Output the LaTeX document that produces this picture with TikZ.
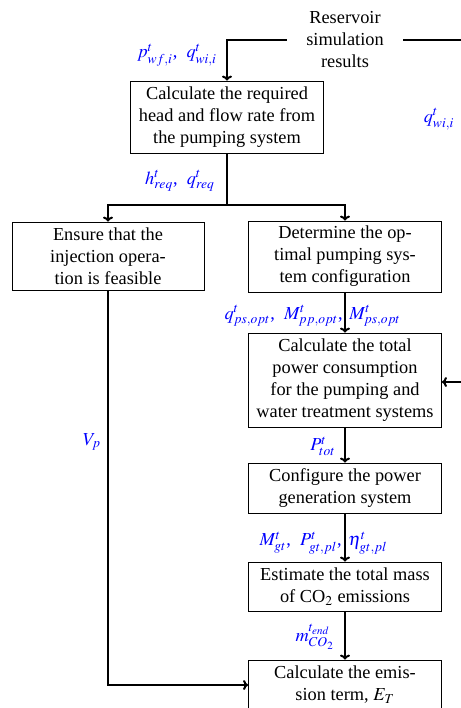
\documentclass[tikz,border=0pt]{standalone}
\usepackage{mathptmx}
\usepackage{fontspec}
\setmainfont{Liberation Serif}
\usetikzlibrary{arrows.meta}
\begin{document}
\begin{tikzpicture}[x=0.6pt,y=-0.6pt,
  every node/.style={font=\fontsize{11}{13.2}\selectfont},
  proc/.style={draw,line width=0.5pt,align=center,minimum width=115.8pt,inner sep=0pt},
  lab/.style={text=blue,inner sep=0pt},
  conn/.style={line width=1.2pt},
  arr/.style={conn,-{To[length=3pt,width=6pt]}}]
\useasboundingbox (0,0) rectangle (461,708);
\node[align=center,minimum width=69.6pt,inner sep=0pt] (res) at (345,40) {Reservoir\\simulation\\results};
\node[proc,minimum height=43.2pt] (b1) at (227,117) {Calculate the required\\head and flow rate from\\the pumping system};
\node[proc,minimum width=115.2pt,minimum height=40.8pt] (b2) at (108,256) {Ensure that the\\injection opera-\\tion is feasible};
\node[proc,minimum height=42.6pt] (b3) at (345,256.5) {Determine the op-\\timal pumping sys-\\tem configuration};
\node[proc,minimum height=56.4pt] (b4) at (345,380) {Calculate the total\\power consumption\\for the pumping and\\water treatment systems};
\node[proc,minimum height=30pt] (b5) at (345,488) {Configure the power\\generation system};
\node[proc,minimum height=29.4pt] (b6) at (345,586.5) {Estimate the total mass\\of CO$_2$ emissions};
\node[proc,minimum height=30pt] (b7) at (345,685) {Calculate the emis-\\sion term, $E_T$};
\coordinate (sp) at (227,205);
\coordinate (rend) at (480,40);
\coordinate (rin) at (480,382);
\draw[arr] (res.west) -| (b1.north);
\draw[conn] (res.east) -- (rend);
\draw[conn] (b1.south) -- (sp);
\draw[arr] (sp) -| (b2.north);
\draw[arr] (sp) -| (b3.north);
\draw[arr] (b3.south) -- (b4.north);
\draw[arr] (b4.south) -- (b5.north);
\draw[arr] (b5.south) -- (b6.north);
\draw[arr] (b6.south) -- (b7.north);
\draw[arr] (b2.south) |- (b7.west);
\draw[arr] (rin) -- (b4.east |- rin);
\node[lab] (l1) at (177,55) {$p^t_{wf,i}$,~~$q^t_{wi,i}$};
\node[lab] (l2) at (439,119) {$q^t_{wi,i}$};
\node[lab] (l3) at (180,181) {$h^t_{req}$,~~$q^t_{req}$};
\node[lab,anchor=east] (l4) at (343,316) {$q^t_{ps,opt}$,~~$M^t_{pp,opt}$,};
\node[lab,anchor=west] (l5) at (349,316) {$M^t_{ps,opt}$};
\node[lab] (l6) at (92,442) {$V_p$};
\node[lab] (l7) at (323,446) {$P^t_{tot}$};
\node[lab,anchor=east] (l8) at (342,543) {$M^t_{gt}$,~~$P^t_{gt,pl}$,};
\node[lab,anchor=west] (l9) at (348,543) {$\eta^t_{gt,pl}$};
\node[lab] (l10) at (315,637) {$m^{t_{end}}_{CO_2}$};
\end{tikzpicture}
\end{document}
